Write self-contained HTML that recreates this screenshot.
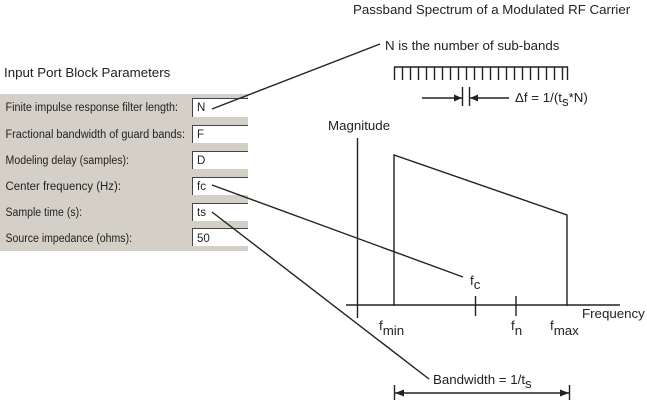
<!DOCTYPE html>
<html><head><meta charset="utf-8"><style>
html,body{margin:0;padding:0;background:#fff}
svg{display:block}
text{font-family:"Liberation Sans",sans-serif;fill:#222;font-size:13.3px}
text.p{font-family:"Liberation Sans",sans-serif;font-size:11.5px;fill:#222}
.l{stroke:#222;stroke-width:1.4;fill:none}
</style></head><body>
<svg width="647" height="401" viewBox="0 0 647 401" xmlns="http://www.w3.org/2000/svg">
<rect x="0" y="94" width="248" height="157" fill="#d4d0c8"/>
<g fill="#fff" stroke="none">
<rect x="192" y="98" width="56" height="19"/><rect x="192" y="125" width="56" height="18"/>
<rect x="192" y="151" width="56" height="18"/><rect x="192" y="177" width="56" height="18"/>
<rect x="192" y="203" width="56" height="18"/><rect x="192" y="228" width="56" height="18"/>
</g>
<g fill="none" stroke="#444" stroke-width="1">
<path d="M192.500 117V98.500H248M192.500 143V125.500H248M192.500 169V151.500H248M192.500 195V177.500H248M192.500 221V203.500H248M192.500 246V228.500H248"/>
</g>
<g>
<text class="p" x="5.500" y="111" textLength="172.500" lengthAdjust="spacingAndGlyphs">Finite impulse response filter length:</text>
<text class="p" x="5.500" y="138" textLength="179.500" lengthAdjust="spacingAndGlyphs">Fractional bandwidth of guard bands:</text>
<text class="p" x="5.500" y="164" textLength="123.500" lengthAdjust="spacingAndGlyphs">Modeling delay (samples):</text>
<text class="p" x="5.500" y="190" textLength="115.500" lengthAdjust="spacingAndGlyphs">Center frequency (Hz):</text>
<text class="p" x="5.500" y="216" textLength="76.500" lengthAdjust="spacingAndGlyphs">Sample time (s):</text>
<text class="p" x="5.500" y="242" textLength="126.500" lengthAdjust="spacingAndGlyphs">Source impedance (ohms):</text>
<text class="p" x="197" y="111">N</text><text class="p" x="197" y="138">F</text>
<text class="p" x="197" y="164">D</text><text class="p" x="197" y="190">fc</text>
<text class="p" x="197" y="216">ts</text><text class="p" x="197" y="242">50</text>
</g>
<text x="4" y="77">Input Port Block Parameters</text>
<text x="353" y="14">Passband Spectrum of a Modulated RF Carrier</text>
<text x="385" y="50">N is the number of sub-bands</text>
<path class="l" d="M212 109L380 44M212 185L463 277M212 212L429 379"/>
<path class="l" d="M394 67H568M394.500 67V80M402.500 67V80M410.500 67V80M418.500 67V80M426.500 67V80M434.500 67V80M442.500 67V80M450.500 67V80M458.500 67V80M466.500 67V80M474.500 67V80M482.500 67V80M490.500 67V80M498.500 67V80M506.500 67V80M514.500 67V80M522.500 67V80M530.500 67V80M538.500 67V80M546.500 67V80M554.500 67V80M562.500 67V80M567.500 67V80"/>
<path class="l" d="M422 98H462M470 98H509M462.500 87V106M469.500 87V106"/>
<path fill="#222" d="M462 98l-8-3.500v7zM470 98l8-3.500v7z"/>
<text x="515" y="102">Δf = 1/(t<tspan dy="4">s</tspan><tspan dy="-4">*N)</tspan></text>
<text x="328" y="130">Magnitude</text>
<path class="l" d="M357.500 138V318M394 306V155L567 215V306M346 305H620M475.500 296V316M516 296V316"/>
<text x="470" y="285">f<tspan dy="4">c</tspan></text>
<text x="379" y="330">f<tspan dy="5">min</tspan></text>
<text x="511" y="330">f<tspan dy="5">n</tspan></text>
<text x="550" y="330">f<tspan dy="5">max</tspan></text>
<text x="582" y="318">Frequency</text>
<text x="433" y="384">Bandwidth = 1/t<tspan dy="4">s</tspan></text>
<path class="l" d="M394 393H570M394.500 385V400M569.500 385V400"/>
<path fill="#222" d="M395 393l9-3.500v7zM569 393l-9-3.500v7z"/>
</svg>
</body></html>
